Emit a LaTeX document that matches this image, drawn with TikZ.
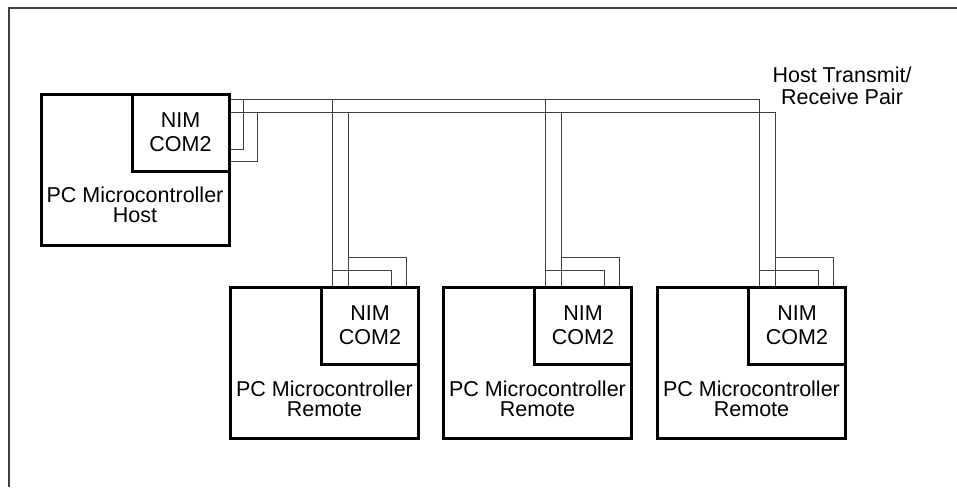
\documentclass[tikz,border=0pt]{standalone}
\usepackage{fontspec}
\setmainfont{Liberation Sans}
\usetikzlibrary{positioning,calc}

\tikzset{
  pcbox/.style={draw, line width=1.5pt, minimum width=94pt, minimum height=75.5pt, inner sep=0pt},
  nimbox/.style={draw, line width=1.5pt, minimum width=48.5pt, minimum height=38.5pt,
    anchor=north east, align=center, inner sep=0pt, font=\fontsize{10.75}{12}\selectfont},
  pclabel/.style={align=center, inner sep=0pt, font=\fontsize{10.75}{10}\selectfont},
  wire/.style={draw=black!75, line width=0.5pt},
}

\begin{document}
\begin{tikzpicture}[x=0.5pt,y=-0.5pt]
  \useasboundingbox (0,0) rectangle (957,487);
  % frame
  \draw[black!75, line width=1pt] (9,487) -- (9,8) -- (957,8);

  % host
  \node[pcbox] (host) at (135,169.5) {};
  \node[nimbox] (hostnim) at (host.north east) {NIM\\COM2};
  \node[pclabel] (hostlabel) at ($(host.south)+(0,-42)$) {PC Microcontroller\\Host};
  \coordinate (busA) at ($(hostnim.north east)+(0,7)$);
  \coordinate (busB) at ($(hostnim.north east)+(0,20)$);
  \coordinate (hostoutA) at ($(hostnim.north east)+(0,57)$);
  \coordinate (hostoutB) at ($(hostnim.north east)+(0,69)$);
  \draw[wire] (hostoutA) -| ($(busA)+(13,0)$);
  \draw[wire] (hostoutB) -| ($(busB)+(27,0)$);

  % remotes
  \foreach \i/\x in {1/324.5, 2/537.5, 3/751.5} {
    \node[pcbox] (rem\i) at (\x,362.5) {};
    \node[nimbox] (nim\i) at (rem\i.north east) {NIM\\COM2};
    \node[pclabel] (remlabel\i) at ($(rem\i.south)+(0,-41)$) {PC Microcontroller\\Remote};
    \coordinate (ta\i) at ($(nim\i.north west)+(12,0)$);
    \coordinate (tb\i) at ($(nim\i.north west)+(28,0)$);
    \coordinate (la\i) at ($(nim\i.north west)+(71,0)$);
    \coordinate (lb\i) at ($(nim\i.north west)+(86,0)$);
    \draw[wire] ($(ta\i)+(0,-15)$) -| (la\i);
    \draw[wire] ($(tb\i)+(0,-28)$) -| (lb\i);
  }

  % transmit/receive pair
  \draw[wire] (busA) -| (ta3);
  \draw[wire] (busB) -| (tb3);
  \foreach \i in {1,2} {
    \draw[wire] (ta\i |- busA) -- (ta\i);
    \draw[wire] (tb\i |- busB) -- (tb\i);
  }
  \node[pclabel, font=\fontsize{10.75}{11}\selectfont] (pairlabel) at (842,86)
    {Host Transmit/\\Receive Pair};
\end{tikzpicture}
\end{document}
